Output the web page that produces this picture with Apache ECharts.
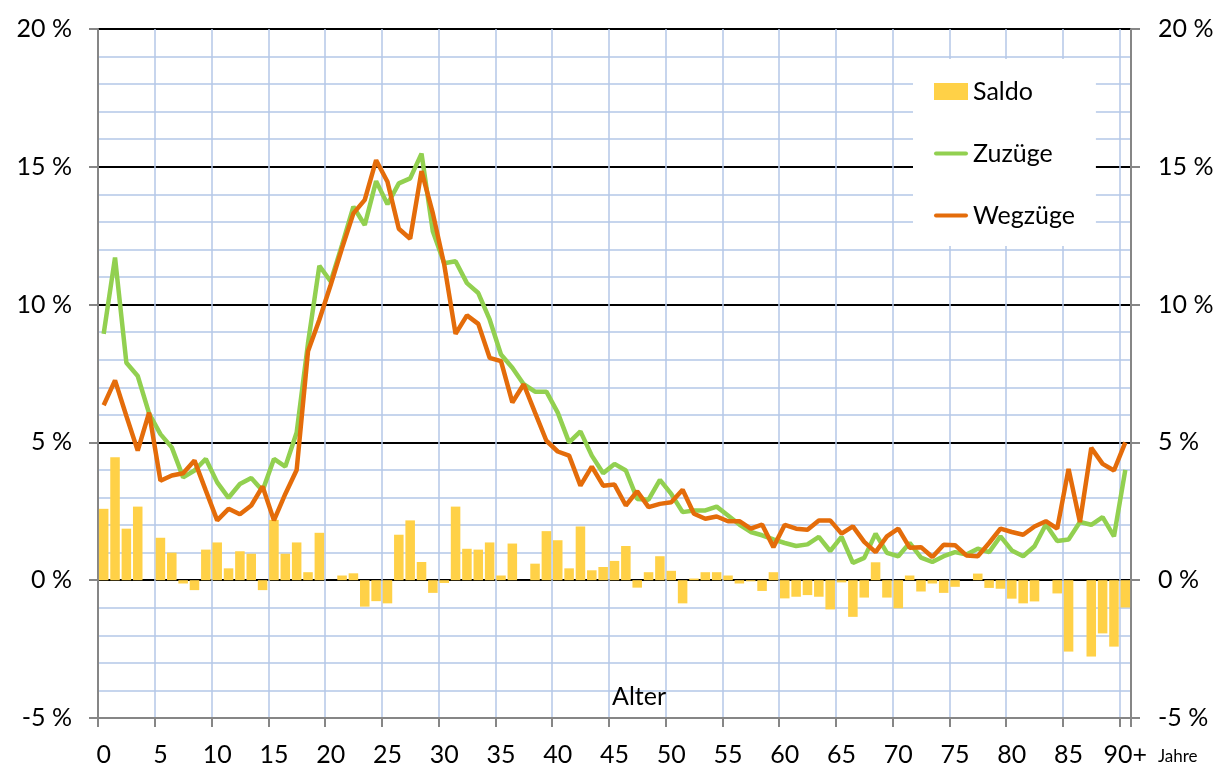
<!DOCTYPE html>
<html>
<head>
<meta charset="utf-8">
<script src="https://cdn.jsdelivr.net/npm/echarts@6/dist/echarts.min.js"></script>
<style>
  html, body { margin: 0; padding: 0; background: #fff; }
  #chart { width: 1226px; height: 769px; }
</style>
</head>
<body>
<div id="chart"></div>
<script>
// Alter 0 .. 90+
var ages = [];
for (var a = 0; a < 90; a++) ages.push(String(a));
ages.push('90+');

// Saldo (%)
var saldo = [
  2.59, 4.46, 1.87, 2.67, 0, 1.54, 1.0, -0.12, -0.36, 1.11,
  1.37, 0.43, 1.05, 0.96, -0.36, 2.19, 0.96, 1.37, 0.29, 1.72,
  0, 0.17, 0.25, -0.96, -0.76, -0.84, 1.65, 2.17, 0.66, -0.46,
  -0.10, 2.67, 1.14, 1.11, 1.37, 0.17, 1.33, 0, 0.60, 1.78,
  1.45, 0.43, 1.95, 0.36, 0.48, 0.70, 1.24, -0.27, 0.29, 0.87,
  0.34, -0.84, 0.06, 0.29, 0.29, 0.17, -0.12, -0.04, -0.39, 0.29,
  -0.66, -0.60, -0.54, -0.60, -1.06, -0.08, -1.33, -0.63, 0.65, -0.63,
  -1.02, 0.17, -0.41, -0.12, -0.46, -0.24, 0, 0.24, -0.28, -0.31,
  -0.67, -0.84, -0.77, 0, -0.48, -2.59, 0, -2.77, -1.93, -2.41,
  -0.99
];

// Zuzüge (%)
var zuzuege = [
  8.94, 11.71, 7.89, 7.41, 6.05, 5.3, 4.82, 3.73, 3.98, 4.40,
  3.55, 2.99, 3.49, 3.71, 3.25, 4.40, 4.12, 5.36, 8.6, 11.41,
  10.84, 12.17, 13.55, 12.89, 14.48, 13.64, 14.40, 14.58, 15.48, 12.65,
  11.5, 11.57, 10.78, 10.42, 9.46, 8.19, 7.71, 7.11, 6.84, 6.84,
  6.08, 5.0, 5.40, 4.52, 3.88, 4.22, 3.98, 2.95, 2.92, 3.64,
  3.13, 2.47, 2.53, 2.53, 2.67, 2.35, 2.02, 1.75, 1.63, 1.48,
  1.35, 1.24, 1.30, 1.57, 1.06, 1.57, 0.63, 0.81, 1.69, 0.99,
  0.87, 1.35, 0.82, 0.66, 0.87, 1.02, 0.93, 1.14, 1.02, 1.59,
  1.08, 0.87, 1.23, 2.02, 1.42, 1.48, 2.11, 2.01, 2.29, 1.59,
  4.0
];

// Wegzüge (%)
var wegzuege = [
  6.35, 7.25, 5.96, 4.70, 6.08, 3.61, 3.80, 3.88, 4.34, 3.25,
  2.17, 2.59, 2.39, 2.71, 3.40, 2.17, 3.13, 4.0, 8.31, 9.45,
  10.72, 12.05, 13.31, 13.80, 15.24, 14.46, 12.75, 12.39, 14.84, 13.31,
  11.45, 8.94, 9.61, 9.30, 8.07, 7.95, 6.45, 7.11, 6.08, 5.06,
  4.67, 4.52, 3.43, 4.12, 3.43, 3.47, 2.71, 3.23, 2.65, 2.77,
  2.83, 3.28, 2.41, 2.23, 2.31, 2.14, 2.14, 1.87, 2.02, 1.20,
  2.01, 1.87, 1.83, 2.17, 2.17, 1.69, 1.95, 1.39, 1.02, 1.59,
  1.87, 1.18, 1.20, 0.84, 1.29, 1.27, 0.90, 0.87, 1.35, 1.87,
  1.75, 1.65, 1.95, 2.14, 1.87, 4.04, 2.11, 4.80, 4.22, 3.98,
  5.0
];

var FONT = 'Lato';
var gridBlue = '#b4c7e7';
var axisGrey = '#868686';
var lineIcon = 'path://M2,0 L32,0 Q34,0 34,2 Q34,4 32,4 L2,4 Q0,4 0,2 Q0,0 2,0 Z';

var chart = echarts.init(document.getElementById('chart'));

var valueAxis = function (pos) {
  return {
    type: 'value',
    position: pos,
    min: -5,
    max: 20,
    interval: 5,
    axisLine: { show: true, lineStyle: { color: axisGrey, width: 2 } },
    axisTick: { show: true, length: 9, lineStyle: { color: axisGrey, width: 2 } },
    axisLabel: {
      formatter: '{value} %',
      fontFamily: FONT,
      fontSize: 25,
      color: '#000',
      margin: pos == 'left' ? 26 : 27
    },
    splitLine: { show: pos == 'left', lineStyle: { color: '#000', width: 2 } },
    minorTick: { show: false, splitNumber: 5 },
    minorSplitLine: { show: pos == 'left', lineStyle: { color: gridBlue, width: 1.5 } }
  };
};

var option = {
  animation: false,
  backgroundColor: '#fff',
  grid: { left: 98, right: 95, top: 29, bottom: 51, containLabel: false },
  legend: {
    orient: 'vertical',
    left: 913,
    top: 59,
    backgroundColor: '#fff',
    padding: [20, 21, 18, 21],
    itemWidth: 34,
    itemHeight: 17,
    itemGap: 37,
    textStyle: { fontFamily: FONT, fontSize: 25, color: '#000' },
    data: [
      { name: 'Saldo', icon: 'rect' },
      { name: 'Zuzüge', icon: lineIcon },
      { name: 'Wegzüge', icon: lineIcon }
    ]
  },
  xAxis: {
    type: 'category',
    data: ages,
    boundaryGap: true,
    axisLine: { onZero: false, lineStyle: { color: axisGrey, width: 2 } },
    axisTick: { show: true, interval: 4, length: 9, lineStyle: { color: axisGrey, width: 2 } },
    axisLabel: { interval: 4, fontFamily: FONT, fontSize: 25, color: '#000', margin: 24 },
    splitLine: { show: true, interval: 4, lineStyle: { color: gridBlue, width: 1.5 } }
  },
  yAxis: [valueAxis('left'), valueAxis('right')],
  graphic: [
    {
      type: 'text', left: 612, top: 684, z: 10,
      style: { text: 'Alter', font: '25px ' + FONT, fill: '#000' }
    },
    {
      type: 'text', left: 1158, top: 748,
      style: { text: 'Jahre', font: '17px ' + FONT, fill: '#000' }
    }
  ],
  series: [
    {
      name: 'Saldo',
      type: 'bar',
      data: saldo,
      barCategoryGap: '16%',
      itemStyle: { color: '#ffd147' }
    },
    {
      name: 'Zuzüge',
      type: 'line',
      data: zuzuege,
      symbol: 'none',
      lineStyle: { color: '#92d050', width: 4.5 },
      itemStyle: { color: '#92d050' }
    },
    {
      name: 'Wegzüge',
      type: 'line',
      data: wegzuege,
      symbol: 'none',
      lineStyle: { color: '#e46c0a', width: 4.5 },
      itemStyle: { color: '#e46c0a' }
    }
  ]
};

chart.setOption(option);
</script>
</body>
</html>
